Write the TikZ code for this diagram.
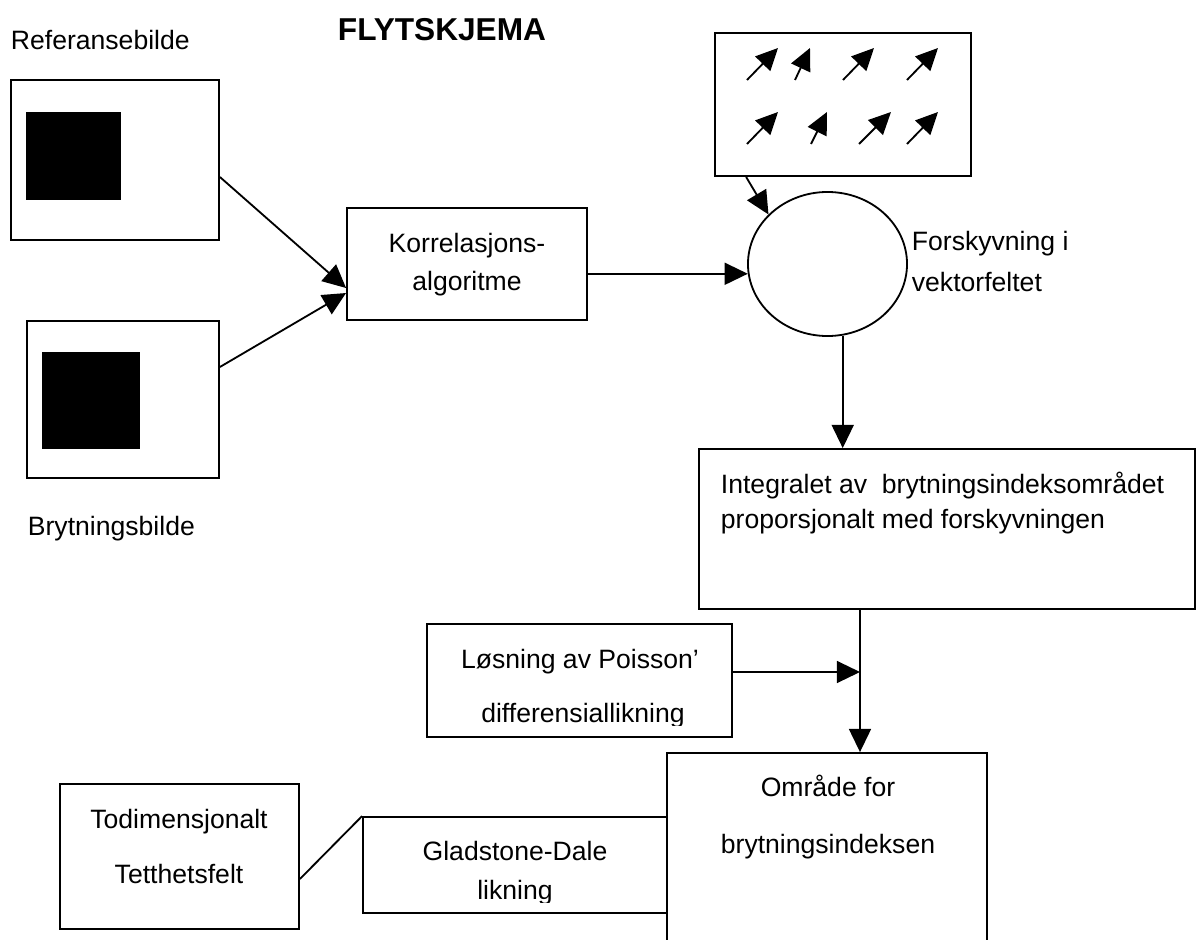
\documentclass[tikz,border=0pt]{standalone}
\usepackage{fontspec}
\setmainfont{Liberation Sans}
\usetikzlibrary{arrows.meta,shapes.geometric,fit}
\begin{document}
\begin{tikzpicture}[x=0.025cm,y=-0.025cm, line width=1.3pt,
  box/.style={draw, rectangle, inner sep=0pt, fit={#1}},
  txt/.style={font=\fontsize{18.9}{22}\selectfont, inner sep=0pt, anchor=base},
  txtl/.style={txt, anchor=base west},
  arr/.style={-{Triangle[length=0.58cm,width=0.55cm]}},
  varr/.style={-{Triangle[length=0.55cm,width=0.52cm]}}]
\useasboundingbox (0,0) rectangle (1199,940);
\fill[white] (0,0) rectangle (1199,940);

% boxes
\node[box={(11,80) (219,240)}] (ref) {};
\node[box={(27,321) (219,478)}] (bryt) {};
\node[box={(347,208) (587,320)}] (korr) {};
\node[box={(715,33) (971,176)}] (vec) {};
\node[draw, ellipse, inner sep=0pt, minimum width=3.975cm, minimum height=3.6cm] (circ) at (827.5,264) {};
\node[box={(699,449) (1195,609)}] (integ) {};
\node[box={(427,624) (732,737)}] (pois) {};
\node[box={(667,753) (987,950)}] (omr) {};
\node[box={(363,817) (667,913)}] (glad) {};
\node[box={(60,784) (299,929)}] (tod) {};

% black squares
\fill[black] (26,112) rectangle (121,200);
\fill[black] (42,352) rectangle (140,449);

% vector field arrows
\draw[varr] (747,80) -- (778,48);
\draw[varr] (795,80) -- (810,48);
\draw[varr] (843,80) -- (874,48);
\draw[varr] (907,80) -- (938,48);
\draw[varr] (747,144) -- (778,112);
\draw[varr] (811,144) -- (827,112);
\draw[varr] (859,144) -- (891,112);
\draw[varr] (907,144) -- (938,112);

% texts
\node[txt, font=\fontsize{22.5}{26}\selectfont\bfseries] (title) at (442,40) {FLYTSKJEMA};
\node[txtl] (lref) at (10,50) {Referansebilde};
\node[txtl] (lbryt) at (27,535) {Brytningsbilde};
\node[txt] (k1) at (467,252) {Korrelasjons-};
\node[txt] (k2) at (467,290) {algoritme};
\node[txtl] (f1) at (911,250) {Forskyvning i};
\node[txtl] (f2) at (911,291) {vektorfeltet};
\node[txtl] (i1) at (720,493) {Integralet av\ \ brytningsindeksområdet};
\node[txtl] (i2) at (720,528) {proporsjonalt med forskyvningen};
\node[txt] (p1) at (580,668) {Løsning av Poisson’};
\begin{scope}
\clip (0,0) rectangle (1199,725);
\node[txt] (p2) at (583,722) {differensiallikning};
\end{scope}
\node[txt] (o1) at (828,796) {Område for};
\node[txt] (o2) at (828,853) {brytningsindeksen};
\node[txt] (g1) at (515,860) {Gladstone-Dale};
\begin{scope}
\clip (0,0) rectangle (1199,902);
\node[txt] (g2) at (515,899) {likning};
\end{scope}
\node[txt] (td1) at (179,828) {Todimensjonalt};
\node[txt] (td2) at (179,883) {Tetthetsfelt};

% connectors
\coordinate (jn) at (860,672);
\draw[arr] ([yshift=-0.425cm]ref.east) -- ([yshift=-0.6cm]korr.west);
\draw[arr] ([yshift=0.8125cm]bryt.east) -- ([yshift=-0.725cm]korr.west);
\draw[arr] (korr.east |- circ.187) -- (circ.187);
\draw[arr] ([xshift=0.8cm]vec.south west) -- (circ.140);
\draw[arr] (circ.282) -- (circ.282 |- integ.north);
\draw[arr] (integ.south -| jn) -- (omr.north -| jn);
\draw[arr] (pois.east |- jn) -- (jn);
\draw ([yshift=-0.5625cm]tod.east) -- (glad.north west);
\end{tikzpicture}
\end{document}
